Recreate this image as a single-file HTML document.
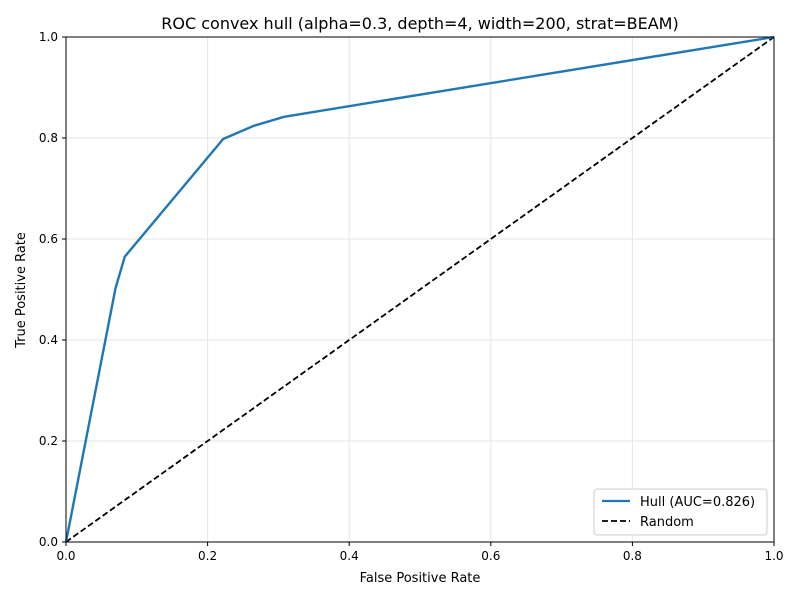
<!DOCTYPE html>
<html><head><meta charset="utf-8"><style>
body{margin:0;background:#fff;font-family:"Liberation Sans","DejaVu Sans",sans-serif}
svg text{font-family:"DejaVu Sans","Liberation Sans",sans-serif}
</style></head><body>
<svg id="chart" width="800" height="600">
<rect width="800" height="600" fill="#fff"/>
<g id="grid"></g><g id="ticks"></g><g id="series"></g>
<rect x="66" y="37" width="708" height="505" fill="none" stroke="#000" stroke-width="1"/>
<text x="420" y="29" text-anchor="middle" font-size="16">ROC convex hull (alpha=0.3, depth=4, width=200, strat=BEAM)</text>
<text x="420" y="582" text-anchor="middle" font-size="13">False Positive Rate</text>
<text x="25" y="290" text-anchor="middle" font-size="13" transform="rotate(-90 25 290)">True Positive Rate</text>
<g>
<rect x="594" y="489" width="173" height="46" rx="3" fill="#fff" stroke="#ccc"/>
<line x1="602" y1="501" x2="630" y2="501" stroke="#1f77b4" stroke-width="2.2"/>
<text x="640" y="506" font-size="13">Hull (AUC=0.826)</text>
<line x1="602" y1="521" x2="630" y2="521" stroke="#000" stroke-width="1.8" stroke-dasharray="6,3"/>
<text x="640" y="526" font-size="13">Random</text>
</g>
</svg>
<script>
const hullFpr=[0,0.070,0.083,0.222,0.265,0.308,1];
const hullTpr=[0,0.503,0.565,0.798,0.824,0.842,1];
const randomX=[0,1];
const randomY=[0,1];
const tickVals=[0,0.2,0.4,0.6,0.8,1.0];
const tickLabels=["0.0","0.2","0.4","0.6","0.8","1.0"];
const X=v=>66+v*708, Y=v=>542-v*505;
const NS="http://www.w3.org/2000/svg";
function mk(t,a,p){const e=document.createElementNS(NS,t);for(const k in a)e.setAttribute(k,a[k]);p.appendChild(e);return e;}
const g=document.getElementById('grid'),tk=document.getElementById('ticks'),s=document.getElementById('series');
tickVals.forEach((v,i)=>{
 const gx=mk('line',{x1:X(v),x2:X(v),y1:37,y2:542,stroke:'#e5e5e5'},g);
 
 
 const gy=mk('line',{x1:66,x2:774,y1:Y(v),y2:Y(v),stroke:'#e5e5e5'},g);
 
 
 mk('line',{x1:X(v),x2:X(v),y1:542,y2:546,stroke:'#000'},tk);
 mk('line',{x1:62,x2:66,y1:Y(v),y2:Y(v),stroke:'#000'},tk);
 const tx=mk('text',{x:X(v),y:560,'text-anchor':'middle','font-size':12},tk);tx.textContent=tickLabels[i];
 
 
 const ty=mk('text',{x:58,y:Y(v)+4,'text-anchor':'end','font-size':12},tk);ty.textContent=tickLabels[i];
 
 
});
const r=mk('polyline',{points:randomX.map((x,i)=>X(x)+','+Y(randomY[i])).join(' '),fill:'none',stroke:'#000','stroke-width':1.8,'stroke-dasharray':'6,3'},s);


const h=mk('polyline',{points:hullFpr.map((x,i)=>X(x)+','+Y(hullTpr[i])).join(' '),fill:'none',stroke:'#1f77b4','stroke-width':2.4,'stroke-linejoin':'round'},s);


</script>
</body></html>
